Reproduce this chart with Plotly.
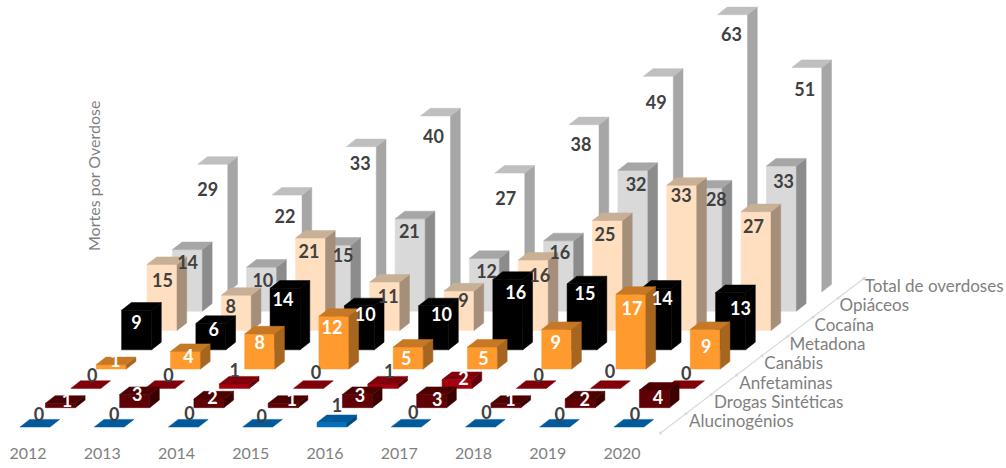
import plotly.graph_objects as go

# ---------- data ----------
years = ["2012", "2013", "2014", "2015", "2016", "2017", "2018", "2019", "2020"]
series_names = ["Alucinogénios", "Drogas Sintéticas", "Anfetaminas", "Canábis",
                "Metadona", "Cocaína", "Opiáceos", "Total de overdoses"]
alucinogenios = [0, 0, 0, 0, 1, 0, 0, 0, 0]
drogas_sinteticas = [1, 3, 2, 1, 3, 3, 1, 2, 4]
anfetaminas = [0, 0, 1, 0, 1, 2, 0, 0, 0]
canabis = [1, 4, 8, 12, 5, 5, 9, 17, 9]
metadona = [9, 6, 14, 10, 10, 16, 15, 14, 13]
cocaina = [15, 8, 21, 11, 9, 16, 25, 33, 27]
opiaceos = [14, 10, 15, 21, 12, 16, 32, 28, 33]
total_overdoses = [29, 22, 33, 40, 27, 38, 49, 63, 51]
all_series = [alucinogenios, drogas_sinteticas, anfetaminas, canabis,
              metadona, cocaina, opiaceos, total_overdoses]

# ---------- styling ----------
W, H = 1006, 468
PX_X = 74.25         # pixels per year
PX_Y = 4.4           # pixels per death
X0_PX = 35.0         # pixel of first year, front row
Y0_PX = 427.0        # pixel of value 0, front row
BOTTOM_PX = 442.0    # bottom of plot area
STEP_X = 25.4 / PX_X
STEP_Y = 19.3 / PX_Y
LABEL_STEP_X = 25.1 / PX_X
BAR_W = 30.0 / PX_X
DEPTH_X = 9.7 / PX_X
DEPTH_Y = 7.6 / PX_Y

face_colors = [  # front, top, side
    ("#0070c0", "#005a9c", "#004a80"),
    ("#5e0006", "#4c0000", "#3c0000"),
    ("#a50010", "#80000a", "#640008"),
    ("#ff9a2e", "#c67824", "#a76620"),
    ("#000000", "#000000", "#000000"),
    ("#ffdfc0", "#c8b096", "#a68f7a"),
    ("#d9d9d9", "#a6a6a6", "#8c8c8c"),
    ("#ffffff", "#bfbfbf", "#a6a6a6"),
]
DARK = "#404040"
WHITE = "#ffffff"
AXIS_TEXT = "#7f7f7f"
FONT = "Lato"

# label placement relative to the front-face centre / top (pixels, positive = right / below top)
label_dx = [
    [4, 5, 6, 4, 5, 7, 6, 5, 6],
    [7, 3, 4, 9, 3, 6, 5, 5, 4],
    [7, 9, 1, 8, 7, 7, 8, 5, 7],
    [5, 4, 1, -1, -1, 2, 0, 2, 2],
    [1, 4, -1, 7, 9, 9, 4, 7, 11],
    [2, -4, 0, 5, 6, 8, -1, 1, -1],
    [2, 3, 9, 1, 4, 3, 5, 11, 4],
    [-3, 0, 1, 0, -2, -1, 0, 1, 0],
]
label_dy = [
    [-11, -11, -12, -9, -15, -13, -13, -11, -11],
    [-1, 2, 1, -2, 3, 7, -2, 3, 9],
    [-11, -11, -12, -14, -11, 1, -11, -15, -13],
    [-2, 7, 11, 13, 13, 13, 15, 16, 19],
    [14, 8, 13, 11, 11, 15, 12, 12, 18],
    [18, 13, 15, 16, 12, 17, 16, 12, 17],
    [15, 15, 12, 15, 15, 14, 16, 13, 17],
    [27, 23, 19, 23, 27, 22, 28, 22, 24],
]
white_series = {1, 3, 4}
white_single = {(2, 5)}


def px_to_x(px):
    return (px - X0_PX) / PX_X


def px_to_y(px):
    return (Y0_PX - px) / PX_Y


def poly(points_list):
    xs, ys = [], []
    for pts in points_list:
        xs += [p[0] for p in pts] + [pts[0][0], None]
        ys += [p[1] for p in pts] + [pts[0][1], None]
    return xs, ys


def face_trace(points_list, color, name):
    xs, ys = poly(points_list)
    return go.Scatter(x=xs, y=ys, mode="lines", fill="toself", fillcolor=color,
                      line=dict(color=color, width=0.5), name=name,
                      hoverinfo="skip", showlegend=False)


fig = go.Figure()

# back rows first so that nearer rows cover them
for s in range(len(all_series) - 1, -1, -1):
    values = all_series[s]
    front, top, side = [], [], []
    for k, v in enumerate(values):
        xl = k - BAR_W / 2 + s * STEP_X
        xr = xl + BAR_W
        y0 = s * STEP_Y
        y1 = y0 + v
        if v > 0:
            front.append([(xl, y0), (xr, y0), (xr, y1), (xl, y1)])
            side.append([(xr, y0), (xr + DEPTH_X, y0 + DEPTH_Y),
                         (xr + DEPTH_X, y1 + DEPTH_Y), (xr, y1)])
        top.append([(xl, y1), (xr, y1), (xr + DEPTH_X, y1 + DEPTH_Y),
                    (xl + DEPTH_X, y1 + DEPTH_Y)])
    cf, ct, cs = face_colors[s]
    if front:
        fig.add_trace(face_trace(front, cf, series_names[s]))
    if side:
        fig.add_trace(face_trace(side, cs, series_names[s] + " side"))
    fig.add_trace(face_trace(top, ct, series_names[s] + " top"))

# depth axis
axis_k = 8.53
axis_s = [-0.31, 7.77]
fig.add_trace(go.Scatter(
    x=[axis_k + a * STEP_X for a in axis_s],
    y=[a * STEP_Y for a in axis_s],
    mode="lines", line=dict(color="#d9d9d9", width=1.2),
    hoverinfo="skip", showlegend=False))
tick_s = [i - 0.31 for i in range(9)]
fig.add_trace(go.Scatter(
    x=[axis_k + a * STEP_X for a in tick_s],
    y=[a * STEP_Y for a in tick_s],
    mode="markers", marker=dict(color="#d9d9d9", size=3),
    hoverinfo="skip", showlegend=False))

# depth axis labels
fig.add_trace(go.Scatter(
    x=[px_to_x(689) + s * LABEL_STEP_X for s in range(len(series_names))],
    y=[px_to_y(423) + s * STEP_Y for s in range(len(series_names))],
    text=series_names, mode="text", textposition="middle right",
    textfont=dict(family=FONT, size=17, color=AXIS_TEXT),
    hoverinfo="skip", showlegend=False))

# value labels
for s, values in enumerate(all_series):
    xs, ys, txt, cols = [], [], [], []
    for k, v in enumerate(values):
        xs.append(k + s * LABEL_STEP_X + label_dx[s][k] / PX_X)
        ys.append(s * STEP_Y + v - label_dy[s][k] / PX_Y)
        txt.append(str(v))
        cols.append(WHITE if (s in white_series or (s, k) in white_single) else DARK)
    fig.add_trace(go.Scatter(
        x=xs, y=ys, text=txt, mode="text", textposition="middle center",
        textfont=dict(family=FONT, size=18, color=cols, weight="bold"),
        hoverinfo="skip", showlegend=False, name=series_names[s] + " labels"))

fig.update_layout(
    width=W, height=H, autosize=False,
    margin=dict(l=0, r=0, t=0, b=H - BOTTOM_PX),
    paper_bgcolor="white", plot_bgcolor="white",
    showlegend=False,
    xaxis=dict(
        range=[px_to_x(0), px_to_x(W)], showgrid=False, zeroline=False, showline=False,
        tickmode="array",
        tickvals=[k + px_to_x(28) for k in range(len(years))],
        ticktext=years, ticks="", ticklen=0,
        tickfont=dict(family=FONT, size=16, color=AXIS_TEXT),
    ),
    yaxis=dict(range=[px_to_y(BOTTOM_PX), px_to_y(0)], visible=False),
    annotations=[dict(
        text="Mortes por Overdose", textangle=-90, showarrow=False,
        xref="x", yref="y", x=px_to_x(93), y=px_to_y(176),
        font=dict(family=FONT, size=16, color=AXIS_TEXT),
    )],
)

fig.write_html("out.html", config={"displayModeBar": False},
               post_script="document.body.style.margin='0';document.body.style.overflow='hidden';")
